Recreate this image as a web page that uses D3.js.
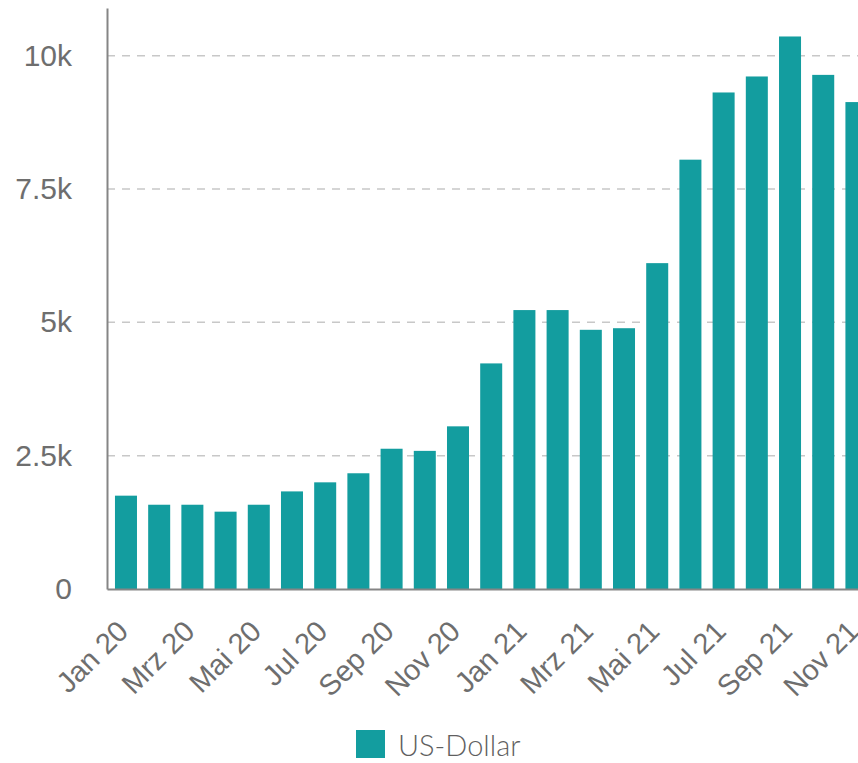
<!DOCTYPE html>
<html>
<head>
<meta charset="utf-8">
<script src="https://cdn.jsdelivr.net/npm/d3@7"></script>
<style>
	html, body { margin: 0; padding: 0; background: #fff; overflow: hidden; }
	svg { display: block; font-family: Lato, sans-serif; }
</style>
</head>
<body>
<svg id="chart" width="858" height="763"></svg>
<script>
// Months (the reference is cut off on the right after Nov 21)
var months = ["Jan 20", "Feb 20", "Mrz 20", "Apr 20", "Mai 20", "Jun 20", "Jul 20", "Aug 20",
	"Sep 20", "Okt 20", "Nov 20", "Dez 20", "Jan 21", "Feb 21", "Mrz 21", "Apr 21",
	"Mai 21", "Jun 21", "Jul 21", "Aug 21", "Sep 21", "Okt 21", "Nov 21"];

// US-Dollar values
var usd = [1750, 1580, 1580, 1450, 1580, 1830, 2000, 2170,
	2630, 2590, 3050, 4230, 5230, 5230, 4860, 4890,
	6110, 8050, 9310, 9610, 10360, 9640, 9130];

// Labelled months and y ticks
var monthTicks = months.filter(function(d, i) { return i % 2 === 0; });
var yTicks = [0, 2500, 5000, 7500, 10000];
var seriesName = "US-Dollar";

var barColor = "#139d9f";
var textColor = "#6e6e6e";

var svg = d3.select("#chart");

var plotLeft = 107, plotBase = 589, plotTop = 8;

// Bars keep their spacing; the last ones run past the right edge like the reference
var x = d3.scaleBand()
	.domain(months)
	.range([plotLeft, plotLeft + 768.4])
	.paddingInner(0.337)
	.paddingOuter(0.24);

var y = d3.scaleLinear()
	.domain([0, 10894])
	.range([plotBase, plotTop]);

// Dashed gridlines
svg.append("g")
	.selectAll("line")
	.data(yTicks.filter(function(d) { return d > 0; }))
	.enter().append("line")
		.attr("x1", plotLeft)
		.attr("x2", 858)
		.attr("y1", function(d) { return y(d); })
		.attr("y2", function(d) { return y(d); })
		.attr("stroke", "#c8c8c8")
		.attr("stroke-width", 1.5)
		.attr("stroke-dasharray", "8,7");

// Bars
svg.append("g")
	.selectAll("rect")
	.data(usd)
	.enter().append("rect")
		.attr("x", function(d, i) { return x(months[i]); })
		.attr("y", function(d) { return y(d); })
		.attr("width", x.bandwidth())
		.attr("height", function(d) { return plotBase - y(d); })
		.attr("fill", barColor);

// Y axis
var yAxis = svg.append("g")
	.attr("transform", "translate(" + plotLeft + ",0)")
	.call(d3.axisLeft(y).tickValues(yTicks).tickSize(0).tickPadding(35)
		.tickFormat(function(d) { return d === 0 ? "0" : (d / 1000) + "k"; }));
yAxis.select(".domain").attr("stroke", "#858585").attr("stroke-width", 2);
yAxis.selectAll("text")
	.attr("fill", textColor)
	.style("font-size", "30px")
	.style("font-weight", 300);

// X axis
var xAxis = svg.append("g")
	.attr("transform", "translate(0," + plotBase + ")")
	.call(d3.axisBottom(x).tickValues(monthTicks).tickSize(0).tickPadding(0));
xAxis.select(".domain").attr("stroke", "#858585").attr("stroke-width", 2);
xAxis.selectAll("text")
	.attr("fill", textColor)
	.style("font-size", "29px")
	.style("font-weight", 300)
	.style("text-anchor", "end")
	.attr("dy", null)
	.attr("y", 0)
	.attr("transform", "translate(4, 44) rotate(-45)");

// Legend
var legend = svg.append("g")
	.attr("transform", "translate(356,730)");

legend.append("rect")
	.attr("width", 29)
	.attr("height", 28)
	.attr("fill", barColor);

legend.append("text")
	.attr("x", 42)
	.attr("y", 26)
	.attr("fill", "#5f5f5f")
	.style("font-size", "29px")
	.style("font-weight", 300)
	.text(seriesName);
</script>
</body>
</html>
